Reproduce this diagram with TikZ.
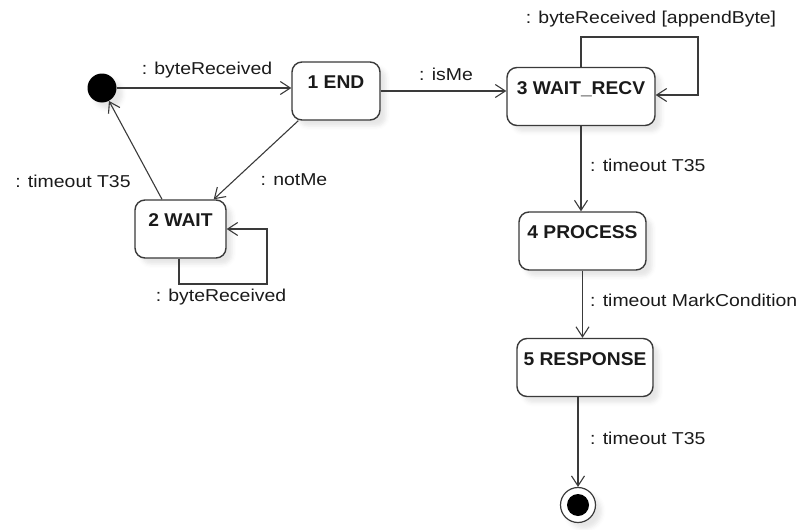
\documentclass[tikz,border=0pt]{standalone}
\usepackage{fontspec}
\newfontfamily\lblfont{Liberation Sans}[FakeStretch=1.13]
\newfontfamily\namefont{Liberation Sans}[FakeStretch=1.04]
\usetikzlibrary{arrows.meta,shadows.blur,calc}
\definecolor{edgecol}{HTML}{3A3A3A}
\definecolor{txtcol}{HTML}{1A1A1A}
\begin{document}
\begin{tikzpicture}[x=1pt,y=-1pt,
  every node/.style={inner sep=0pt},
  softshadow/.style={blur shadow={shadow xshift=6pt, shadow yshift=-6pt,
      shadow blur radius=4pt, shadow opacity=10}},
  lbl/.style={font=\lblfont\fontsize{17.2}{20}\selectfont, text=txtcol},
  statebox/.style={draw=edgecol, line width=1.4pt, rounded corners=10pt,
      fill=white, softshadow, text=txtcol,
      font=\namefont\bfseries\fontsize{18.5}{21}\selectfont,
      inner xsep=0pt, inner ysep=7pt, text height=19.5pt, text depth=24.5pt},
  initst/.style={circle, fill=black, draw=none, minimum size=29pt, softshadow},
  finalst/.style={circle, fill=white, draw=edgecol, line width=1.2pt,
      minimum size=35pt, softshadow},
  trans/.style={draw=edgecol, line width=1.1pt,
      -{Straight Barb[length=10pt,width=13pt,line width=1.1pt]}},
]
\useasboundingbox (0,0) rectangle (798,530);

% states
\node[initst] (init) at (102,88) {};
\node[statebox, minimum width=88pt]  (n1) at (336,91)    {1 END};
\node[statebox, minimum width=91pt]  (n2) at (180.5,229) {2 WAIT};
\node[statebox, minimum width=148pt] (n3) at (581,96.5)  {3 WAIT\_RECV};
\node[statebox, minimum width=127pt] (n4) at (582.5,241) {4 PROCESS};
\node[statebox, minimum width=136pt] (n5) at (585,367.5) {5 RESPONSE};
\node[finalst] (fin) at (578,505) {};
\fill[black] (fin.center) circle[radius=11];

% transitions
\draw[trans] (init) -- (init -| n1.west);
\node[lbl] at (207,70) {: byteReceived};

\draw[trans] (n1.east) -- (n1.east -| n3.west);
\node[lbl] at (446,74) {: isMe};

\draw[trans] (n3.north) |- (698,37) |- ($(n3.east)+(0,-1.5)$);
\node[lbl] at (651,19) {: byteReceived [appendByte]};

\draw[trans] (n3.south) -- (n3.south |- n4.north);
\node[lbl, anchor=west] at (590,165) {: timeout T35};

\draw[trans] (n4.south) -- (n4.south |- n5.north);
\node[lbl, anchor=west] at (590,300) {: timeout MarkCondition};

\draw[trans] (fin.north |- n5.south) -- (fin);
\node[lbl, anchor=west] at (590,438) {: timeout T35};

\draw[trans] ($(n1.south west)+(7,0)$) -- ($(n2.north east)+(-13,0)$);
\node[lbl] at (294,180) {: notMe};

\draw[trans] ($(n2.north)+(-18.5,0)$) -- (init);
\node[lbl] at (73,181) {: timeout T35};

\draw[trans] ($(n2.south)+(-1.5,0)$) |- (267,284) |- (n2.east);
\node[lbl] at (221,297) {: byteReceived};
\end{tikzpicture}
\end{document}
